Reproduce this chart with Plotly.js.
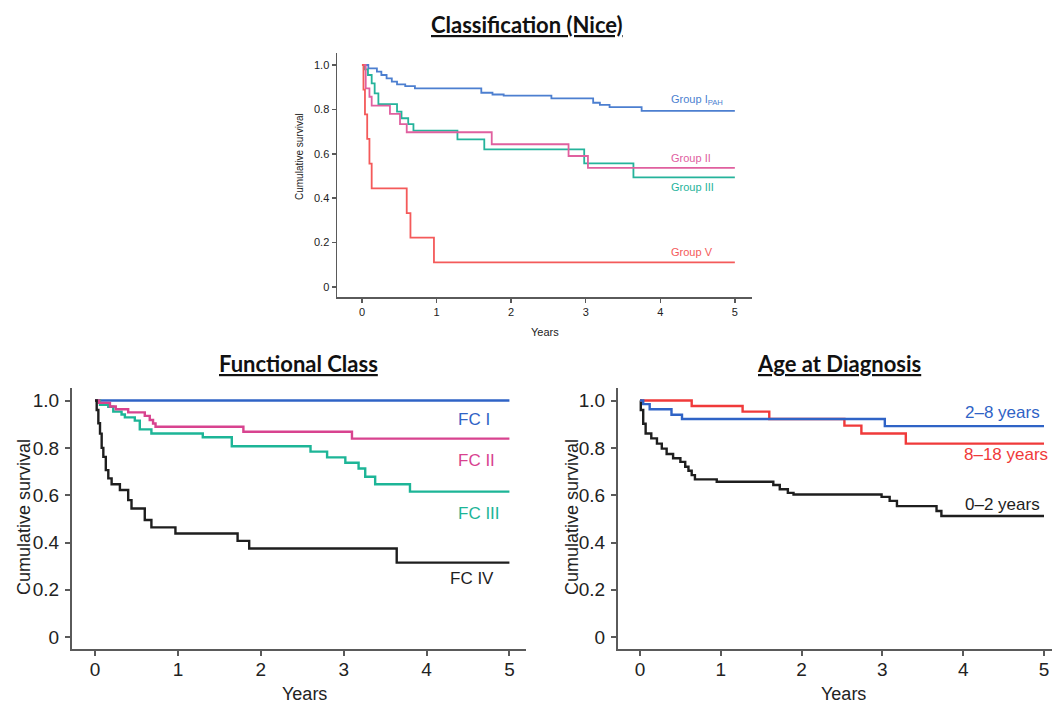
<!DOCTYPE html>
<html>
<head>
<meta charset="utf-8">
<script src="https://cdn.plot.ly/plotly-3.0.1.min.js"></script>
<style>html,body{margin:0;padding:0;background:#fff;}#chart{width:1056px;height:705px;}</style>
</head>
<body>
<div id="chart"></div>
<script>
// ---------- DATA ----------
// Classification (Nice)
const niceGroupI_t   = [0, 0.085, 0.2, 0.26, 0.33, 0.4, 0.47, 0.58, 0.71, 1.6, 1.75, 1.9, 2.54, 3.1, 3.19, 3.32, 3.75, 5];
const niceGroupI_s   = [1, 0.985, 0.97, 0.955, 0.94, 0.925, 0.913, 0.905, 0.895, 0.875, 0.867, 0.862, 0.85, 0.83, 0.82, 0.81, 0.793, 0.793];
const niceGroupII_t  = [0, 0.05, 0.1, 0.13, 0.375, 0.51, 0.6, 1.74, 2.77, 3.03, 5];
const niceGroupII_s  = [1, 0.895, 0.857, 0.817, 0.78, 0.734, 0.697, 0.643, 0.59, 0.537, 0.537];
const niceGroupIII_t = [0, 0.04, 0.08, 0.13, 0.17, 0.22, 0.47, 0.53, 0.62, 0.69, 1.28, 1.64, 2.98, 3.64, 5];
const niceGroupIII_s = [1, 0.98, 0.955, 0.917, 0.872, 0.824, 0.79, 0.76, 0.734, 0.704, 0.665, 0.62, 0.557, 0.494, 0.494];
const niceGroupV_t   = [0, 0.02, 0.04, 0.07, 0.1, 0.13, 0.6, 0.65, 0.965, 5];
const niceGroupV_s   = [1, 0.889, 0.778, 0.667, 0.556, 0.444, 0.333, 0.222, 0.111, 0.111];

// Functional Class
const fcI_t   = [0, 5];
const fcI_s   = [1, 1];
const fcII_t  = [0, 0.05, 0.18, 0.25, 0.4, 0.6, 0.66, 0.7, 0.73, 1.79, 3.1, 5];
const fcII_s  = [1, 0.99, 0.975, 0.963, 0.95, 0.935, 0.918, 0.903, 0.889, 0.868, 0.839, 0.839];
const fcIII_t = [0, 0.06, 0.16, 0.22, 0.32, 0.36, 0.48, 0.54, 0.68, 1.3, 1.65, 2.6, 2.8, 3.02, 3.18, 3.26, 3.38, 3.8, 5];
const fcIII_s = [1, 0.982, 0.974, 0.953, 0.941, 0.929, 0.915, 0.878, 0.861, 0.845, 0.807, 0.784, 0.76, 0.737, 0.713, 0.678, 0.646, 0.615, 0.615];
const fcIV_t  = [0, 0.02, 0.04, 0.06, 0.08, 0.1, 0.13, 0.16, 0.2, 0.3, 0.4, 0.44, 0.6, 0.68, 0.97, 1.72, 1.86, 3.64, 5];
const fcIV_s  = [1, 0.96, 0.904, 0.86, 0.8, 0.762, 0.706, 0.671, 0.646, 0.622, 0.579, 0.544, 0.495, 0.464, 0.438, 0.407, 0.375, 0.315, 0.315];

// Age at Diagnosis
const age2to8_t  = [0, 0.04, 0.12, 0.39, 0.52, 3.03, 5];
const age2to8_s  = [1, 0.985, 0.963, 0.94, 0.922, 0.892, 0.892];
const age8to18_t = [0, 0.64, 1.27, 1.6, 2.53, 2.74, 3.29, 5];
const age8to18_s = [1, 0.977, 0.953, 0.922, 0.894, 0.861, 0.818, 0.818];
const age0to2_t  = [0, 0.01, 0.04, 0.07, 0.14, 0.21, 0.27, 0.33, 0.41, 0.5, 0.56, 0.6, 0.64, 0.68, 0.95, 1.65, 1.73, 1.83, 1.9, 2.99, 3.09, 3.18, 3.67, 3.73, 5];
const age0to2_s  = [1, 0.96, 0.902, 0.861, 0.84, 0.818, 0.797, 0.774, 0.756, 0.741, 0.72, 0.703, 0.685, 0.667, 0.657, 0.643, 0.625, 0.61, 0.603, 0.593, 0.576, 0.554, 0.533, 0.512, 0.512];

const yTickVals = [0, 0.2, 0.4, 0.6, 0.8, 1.0];
const yTickText = ['0', '0.2', '0.4', '0.6', '0.8', '1.0'];
const xTickVals = [0, 1, 2, 3, 4, 5];

const titles = ['Classification (Nice)', 'Functional Class', 'Age at Diagnosis'];
const xTitle = 'Years';
const yTitle = 'Cumulative survival';

// ---------- TRACES ----------
function km(t, s, color, width, xa, ya) {
  return {x: t, y: s, type: 'scatter', mode: 'lines', line: {shape: 'hv', color: color, width: width},
          xaxis: xa, yaxis: ya, hoverinfo: 'skip', showlegend: false};
}
const C = {
  topBlue: '#4c7fd0', topPink: '#e0609f', topTeal: '#25b39b', topRed: '#f45a5a',
  blue: '#2f63c6', pink: '#d8438f', teal: '#1db597', black: '#1e1e1e', red: '#f03a3a'
};
const data = [
  km(niceGroupI_t, niceGroupI_s, C.topBlue, 1.8, 'x', 'y'),
  km(niceGroupIII_t, niceGroupIII_s, C.topTeal, 1.8, 'x', 'y'),
  km(niceGroupII_t, niceGroupII_s, C.topPink, 1.8, 'x', 'y'),
  km(niceGroupV_t, niceGroupV_s, C.topRed, 1.8, 'x', 'y'),
  km(fcI_t, fcI_s, C.blue, 2.4, 'x2', 'y2'),
  km(fcIII_t, fcIII_s, C.teal, 2.4, 'x2', 'y2'),
  km(fcII_t, fcII_s, C.pink, 2.4, 'x2', 'y2'),
  km(fcIV_t, fcIV_s, C.black, 2.4, 'x2', 'y2'),
  km(age0to2_t, age0to2_s, C.black, 2.4, 'x3', 'y3'),
  km(age8to18_t, age8to18_s, C.red, 2.4, 'x3', 'y3'),
  km(age2to8_t, age2to8_s, C.blue, 2.4, 'x3', 'y3')
];

// ---------- LAYOUT ----------
const W = 1056, H = 705;
const px = v => v / W, py = v => 1 - v / H;
const FONT = 'Liberation Sans, Arial, Helvetica, sans-serif';
const TFONT = 'Lato, Open Sans, sans-serif';

function xax(dom, range, fs, lw, tl, anchor, so) {
  return {domain: dom, range: range, anchor: anchor, showline: true, linecolor: '#5a5a5a', linewidth: lw,
          ticks: 'outside', ticklen: tl, tickwidth: lw, tickcolor: '#5a5a5a', tickvals: xTickVals,
          ticklabelstandoff: so,
          tickfont: {family: FONT, size: fs, color: '#222'}, showgrid: false, zeroline: false, fixedrange: true};
}
function yax(dom, range, fs, lw, tl, anchor, so) {
  return {domain: dom, range: range, anchor: anchor, showline: true, linecolor: '#5a5a5a', linewidth: lw,
          ticks: 'outside', ticklen: tl, tickwidth: lw, tickcolor: '#5a5a5a', tickvals: yTickVals, ticktext: yTickText,
          ticklabelstandoff: so,
          tickfont: {family: FONT, size: fs, color: '#222'}, showgrid: false, zeroline: false, fixedrange: true};
}

function ann(text, x, y, xref, yref, size, color, xanchor, extra) {
  return Object.assign({text: text, x: x, y: y, xref: xref, yref: yref, showarrow: false,
          font: {family: FONT, size: size, color: color}, xanchor: xanchor, yanchor: 'middle'}, extra || {});
}

const annotations = [
  // titles
  ann('<b><u>' + titles[0] + '</u></b>', px(527), py(24), 'paper', 'paper', 22, '#111', 'center', {font: {family: TFONT, size: 22, color: '#111'}}),
  ann('<b><u>' + titles[1] + '</u></b>', px(298), py(363), 'paper', 'paper', 22, '#111', 'center', {font: {family: TFONT, size: 22, color: '#111'}}),
  ann('<b><u>' + titles[2] + '</u></b>', px(839), py(363), 'paper', 'paper', 22, '#111', 'center', {font: {family: TFONT, size: 22, color: '#111'}}),
  // axis titles
  ann(xTitle, px(545), py(332), 'paper', 'paper', 11, '#222', 'center'),
  ann(yTitle, px(299), py(157), 'paper', 'paper', 10, '#222', 'center', {textangle: -90}),
  ann(xTitle, px(304), py(694), 'paper', 'paper', 18, '#222', 'center'),
  ann(yTitle, px(24), py(517), 'paper', 'paper', 18, '#222', 'center', {textangle: -90}),
  ann(xTitle, px(843), py(694), 'paper', 'paper', 18, '#222', 'center'),
  ann(yTitle, px(572), py(517), 'paper', 'paper', 18, '#222', 'center', {textangle: -90}),
  // series labels top
  ann('Group I<sub>PAH</sub>', 4.115, 0.842, 'x', 'y', 11, C.topBlue, 'left'),
  ann('Group II', 4.115, 0.581, 'x', 'y', 11, C.topPink, 'left'),
  ann('Group III', 4.115, 0.45, 'x', 'y', 11, C.topTeal, 'left'),
  ann('Group V', 4.115, 0.158, 'x', 'y', 11, C.topRed, 'left'),
  // FC labels
  ann('FC I', 4.35, 0.922, 'x2', 'y2', 17, C.blue, 'left'),
  ann('FC II', 4.35, 0.748, 'x2', 'y2', 17, C.pink, 'left'),
  ann('FC III', 4.35, 0.524, 'x2', 'y2', 17, C.teal, 'left'),
  ann('FC IV', 4.26, 0.25, 'x2', 'y2', 17, C.black, 'left'),
  // Age labels
  ann('2–8 years', 4.975, 0.948, 'x3', 'y3', 17, C.blue, 'right'),
  ann('8–18 years', 5.07, 0.774, 'x3', 'y3', 17, C.red, 'right'),
  ann('0–2 years', 4.975, 0.562, 'x3', 'y3', 17, C.black, 'right')
];

const layout = {
  width: W, height: H, margin: {l: 0, r: 0, t: 0, b: 0},
  paper_bgcolor: '#ffffff', plot_bgcolor: '#ffffff', showlegend: false,
  font: {family: FONT},
  xaxis:  xax([px(337), px(752)], [-0.335, 5.23], 11, 1.5, 4, 'y', 0),
  yaxis:  yax([py(297), py(53)], [-0.045, 1.054], 11, 1.5, 4, 'x', 0),
  xaxis2: xax([px(72), px(526)], [-0.278, 5.2], 19, 2, 5, 'y2', -3),
  yaxis2: yax([py(649), py(388)], [-0.05, 1.053], 19, 2, 5, 'x2', 2),
  xaxis3: xax([px(618), px(1052)], [-0.272, 5.099], 19, 2, 5, 'y3', -3),
  yaxis3: yax([py(649), py(388)], [-0.05, 1.053], 19, 2, 5, 'x3', 2),
  annotations: annotations
};

Plotly.newPlot('chart', data, layout, {displayModeBar: false, staticPlot: true});
</script>
</body>
</html>
